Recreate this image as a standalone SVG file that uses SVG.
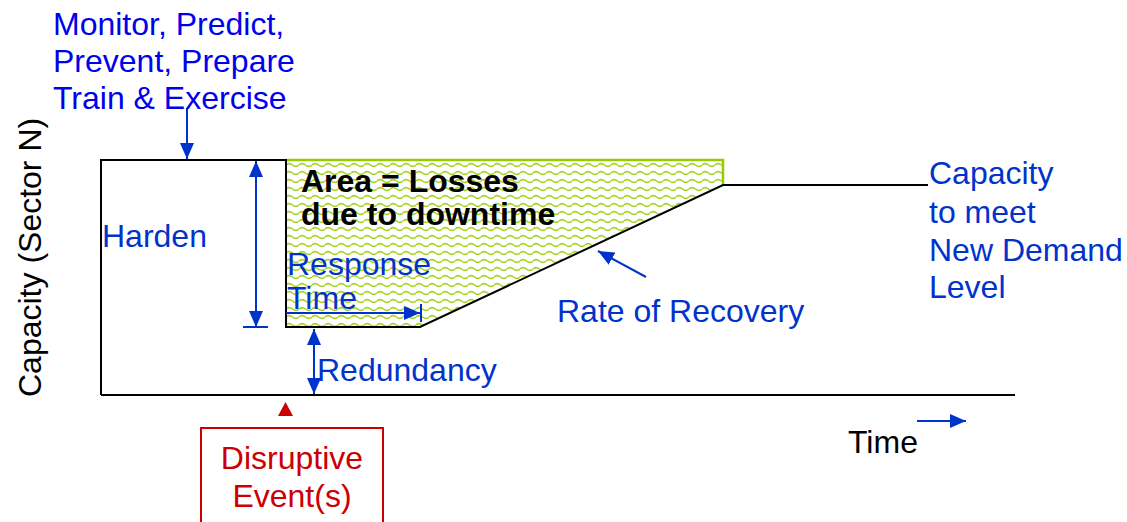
<svg xmlns="http://www.w3.org/2000/svg" width="1127" height="522" viewBox="0 0 1127 522">
<style>
.t{font-family:"Liberation Sans",Arial,sans-serif;font-size:32px}
.blue{fill:#0033cc}
.b{fill:#0000ee}
.k{fill:#000}
.red{fill:#cc0000}
.bold{font-weight:bold}
.ln{stroke:#000;stroke-width:2;fill:none}
.ar{stroke:#0033cc;stroke-width:2;fill:none}
</style>
<defs>
<pattern id="wave" patternUnits="userSpaceOnUse" width="13" height="8" x="0" y="161">
<path d="M0,4 Q3.25,1.2 6.5,4 Q9.75,6.8 13,4" fill="none" stroke="#a6d321" stroke-width="1.6"/>
</pattern>
<marker id="ah" viewBox="0 0 16 14" refX="16" refY="7" markerWidth="16" markerHeight="14" markerUnits="userSpaceOnUse" orient="auto-start-reverse">
<path d="M0,0 L16,7 L0,14 Z" fill="#0033cc"/>
</marker>
</defs>

<g id="loss-area">
<polygon points="286,160 723,160 723,185 420,327 286,327" fill="url(#wave)"/>
<polyline points="286,160 723,160 723,186" fill="none" stroke="#99cc00" stroke-width="2.5"/>
</g>

<g id="capacity-curve">
<polyline class="ln" points="101,395 101,160 286,160 286,327 420,327 723,185 928,185"/>
<line class="ln" x1="101" y1="395" x2="1015" y2="395"/>
</g>

<g id="connectors">
<line class="ar" x1="187" y1="108" x2="187" y2="159" marker-end="url(#ah)"/>
<line class="ar" x1="256" y1="161" x2="256" y2="327" marker-start="url(#ah)" marker-end="url(#ah)"/>
<line class="ar" x1="243" y1="327" x2="268" y2="327"/>
<line class="ar" x1="286" y1="313" x2="420" y2="313" marker-end="url(#ah)"/>
<line class="ar" x1="421" y1="304" x2="421" y2="322"/>
<line class="ar" x1="314" y1="329" x2="314" y2="394" marker-start="url(#ah)" marker-end="url(#ah)"/>
<line class="ar" x1="646" y1="277" x2="598" y2="251" marker-end="url(#ah)"/>
<line class="ar" x1="917" y1="421" x2="966" y2="421" marker-end="url(#ah)"/>
<polygon points="285.5,402 293,416 278,416" fill="#cc0000"/>
</g>

<g id="axis-label">
<text class="t k" transform="translate(41,397) rotate(-90)">Capacity (Sector N)</text>
</g>

<g id="monitor">
<text class="t b" x="53" y="35">Monitor, Predict,</text>
<text class="t b" x="53" y="72">Prevent, Prepare</text>
<text class="t b" x="53" y="109">Train &amp; Exercise</text>
</g>

<g id="harden"><text class="t blue" x="102" y="247">Harden</text></g>

<g id="area-label">
<text class="t k bold" x="301" y="192">Area = Losses</text>
<text class="t k bold" x="301" y="225">due to downtime</text>
</g>

<g id="response"><text class="t blue" x="287" y="275">Response</text><text class="t blue" x="287" y="309">Time</text></g>

<g id="redundancy"><text class="t blue" x="317" y="381">Redundancy</text></g>

<g id="rate"><text class="t blue" x="557" y="322">Rate of Recovery</text></g>

<g id="new-capacity">
<text class="t blue" x="929" y="184">Capacity</text>
<text class="t blue" x="929" y="223">to meet</text>
<text class="t blue" x="929" y="261">New Demand</text>
<text class="t blue" x="929" y="298">Level</text>
</g>

<g id="time"><text class="t k" x="848" y="453">Time</text></g>

<g id="disruptive">
<rect x="201" y="428" width="182" height="110" fill="none" stroke="#cc0000" stroke-width="2"/>
<text class="t red" x="292" y="469" text-anchor="middle">Disruptive</text>
<text class="t red" x="292" y="507" text-anchor="middle">Event(s)</text>
</g>
</svg>
